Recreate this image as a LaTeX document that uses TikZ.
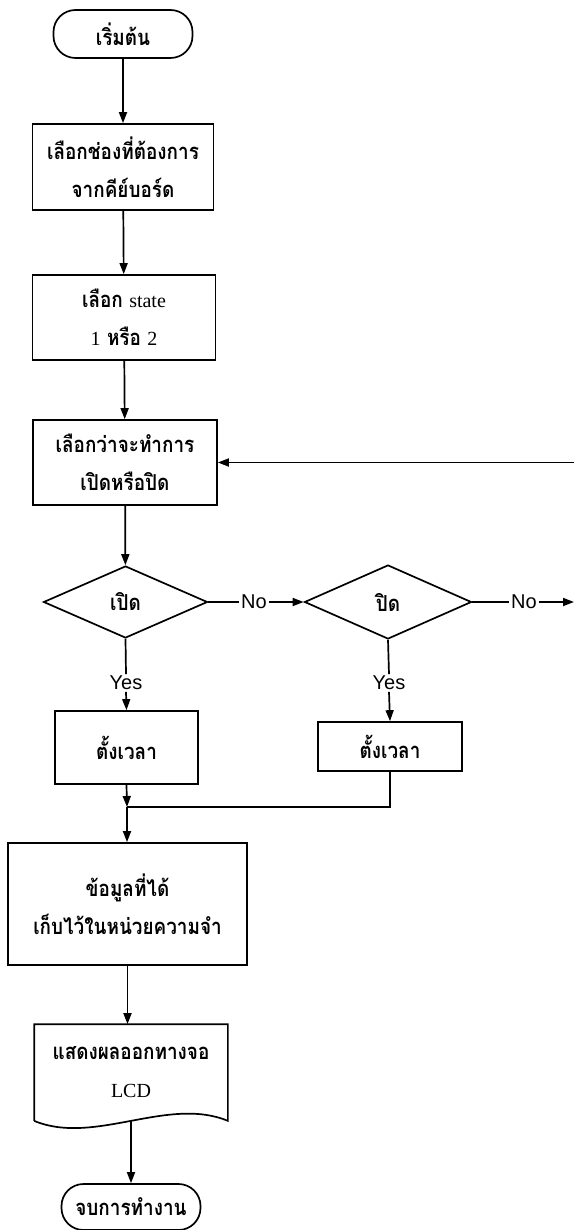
\documentclass[tikz,border=0pt]{standalone}
\usepackage{fontspec}
\setmainfont{Liberation Serif}
\newfontfamily\thaifont[Script=Thai,FakeStretch=0.86]{Loma}
\newfontfamily\labelfont{Liberation Sans}
\usetikzlibrary{shapes.geometric,arrows.meta}
\begin{document}
\begin{tikzpicture}[x=1pt,y=-1pt,line width=1.7pt,
  box/.style={draw,rectangle,inner sep=0pt,align=center,
    font=\thaifont\bfseries\fontsize{22}{38}\selectfont},
  term/.style={box,rounded corners=22pt},
  decision/.style={draw,diamond,inner sep=0pt,
    font=\thaifont\bfseries\fontsize{22}{24}\selectfont},
  lbl/.style={inner sep=1pt,font=\labelfont\fontsize{20}{22}\selectfont},
  flow/.style={-{Triangle[length=11pt,width=8pt]}}]
\useasboundingbox (0,0) rectangle (574,1230);

% main column
\node[term,minimum width=139pt,minimum height=48pt] (start) at (123,34) {เริ่มต้น};
\node[box,minimum width=181pt,minimum height=86pt] (kb) at (123,167)
  {เลือกช่องที่ต้องการ\\จากคีย์บอร์ด};
\node[box,minimum width=183pt,minimum height=85pt] (state) at (124,317.5)
  {เลือก {\rmfamily\mdseries\fontsize{20}{38}\selectfont state}\\{\rmfamily\mdseries\fontsize{20}{38}\selectfont 1} หรือ {\rmfamily\mdseries\fontsize{20}{38}\selectfont 2}};
\node[box,minimum width=184pt,minimum height=85pt] (sel) at (125,462.5)
  {เลือกว่าจะทำการ\\เปิดหรือปิด};

% decisions
\node[decision,minimum width=164pt,minimum height=72pt] (dOn) at (125.5,602) {เปิด};
\node[decision,minimum width=167pt,minimum height=74pt] (dOff) at (388,602) {ปิด};
\node[lbl] (noA) at (254,602) {No};
\node[lbl] (noB) at (524,602) {No};
\node[lbl] (yesA) at (126,683) {Yes};
\node[lbl] (yesB) at (389,683) {Yes};

% timers
\node[box,minimum width=143pt,minimum height=73pt] (tOn) at (126.5,747.5) {ตั้งเวลา};
\node[box,minimum width=144pt,minimum height=49pt] (tOff) at (390,746.5) {ตั้งเวลา};
\coordinate (merge) at (127,807);

% storage, display, end
\node[box,minimum width=239pt,minimum height=122pt] (mem) at (127.5,904)
  {ข้อมูลที่ได้\\เก็บไว้ในหน่วยความจำ};
\node[box,draw=none,minimum width=192pt,minimum height=95pt] (doc) at (131,1072.5)
  {แสดงผลออกทางจอ\\{\rmfamily\mdseries\fontsize{20}{38}\selectfont LCD}};
\draw (doc.south west) -- (doc.north west) -- (doc.north east) -- (doc.south east)
  .. controls +(-60,-25) and +(60,25) .. (doc.south west) coordinate[pos=0.5] (docb);
\node[term,minimum width=139pt,minimum height=46pt] (stop) at (131,1207) {จบการทำงาน};

% loop ends at the right border
\coordinate (backR) at (574,462.5);
\coordinate (offR) at (574,602);

% connectors
\draw[flow] (start) -- (kb);
\draw[flow] (kb) -- (state);
\draw[flow] (state) -- (sel);
\draw[flow] (sel) -- (dOn);
\draw (dOn.east) -- (noA.west);
\draw[flow] (noA.east) -- (dOff.west);
\draw (dOff.east) -- (noB.west);
\draw[flow] (noB.east) -- (offR);
\draw[flow] (backR) -- (sel.east);
\draw (dOn.south) -- (yesA.north);
\draw[flow] (yesA.south) -- (tOn.north);
\draw (dOff.south) -- (yesB.north);
\draw[flow] (yesB.south) -- (tOff.north);
\draw[flow] (tOn.south) -- (merge);
\draw (tOff.south) |- (merge);
\draw[flow] (merge) -- (merge |- mem.north);
\draw[flow] (mem.south) -- (mem.south |- doc.north);
\draw[flow] (docb) -- (docb |- stop.north);
\end{tikzpicture}
\end{document}
